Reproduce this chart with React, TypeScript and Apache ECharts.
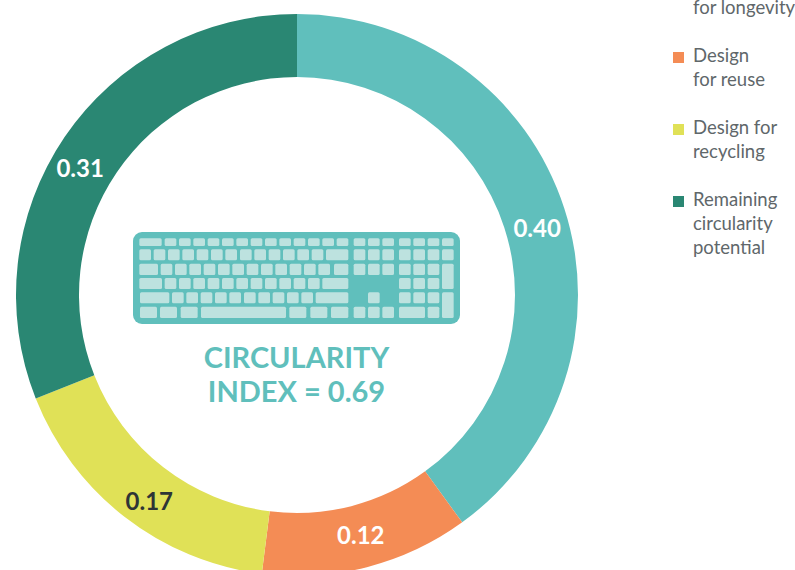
import React, { useEffect, useRef } from "react";
import * as echarts from "echarts";

const categories = ["Design for longevity", "Design for reuse", "Design for recycling", "Remaining circularity potential"];
const legendLines = ["Design\nfor longevity\n", "Design\nfor reuse\n", "Design for\nrecycling\n", "Remaining\ncircularity\npotential"];
const values = [0.4, 0.12, 0.17, 0.31];
const colors = ["#60BFBC", "#F48C55", "#E0E157", "#2A8773"];
const labelColors = ["#FFFFFF", "#FFFFFF", "#2E3436", "#FFFFFF"];
const labelOffsets = [[0, 11], [1, -5], [7, 6], [-8, 14]];
const centerText = "CIRCULARITY\nINDEX = 0.69";

// Keyboard icon: spans in 3x zoom units [x0, x1] per key row
const keyRows: [number, number, number[][]][] = [
  [55, 78, [[58,125],[134,169],[177,212],[220,255],[263,298],[306,341],[349,384],[392,427],[435,470],[478,513],[521,556],[564,599],[607,642],[650,685],[701,736],[744,779],[787,822],[837,872],[880,915],[923,958],[966,1001]]],
  [88, 121, [[58,93],[101,136],[144,179],[187,222],[230,265],[273,308],[316,351],[360,395],[403,438],[446,481],[489,524],[532,567],[575,610],[618,685],[701,736],[744,779],[787,822],[837,872],[880,915],[923,958],[966,1001]]],
  [131, 165, [[58,114],[122,157],[165,200],[208,243],[251,286],[294,329],[337,372],[380,415],[423,458],[466,501],[509,544],[552,587],[595,630],[642,685],[701,736],[744,779],[787,822],[837,872],[880,915],[923,958]]],
  [131, 207, [[966,1001]]],
  [174, 207, [[58,126],[134,169],[177,212],[220,255],[263,298],[306,341],[349,384],[392,427],[435,470],[478,513],[521,556],[564,599],[607,685],[837,872],[880,915],[923,958]]],
  [217, 250, [[60,148],[156,191],[199,234],[242,277],[285,320],[328,363],[372,407],[415,450],[458,493],[501,536],[544,579],[587,685],[744,779],[837,872],[880,915],[923,958]]],
  [217, 294, [[966,1001]]],
  [260, 294, [[60,111],[120,171],[182,233],[243,498],[508,559],[571,622],[633,685],[701,736],[744,779],[787,822],[837,915],[923,958]]],
];

const keyboardKeys = keyRows.flatMap(([y0, y1, spans]) =>
  spans.map(([x0, x1]) => ({
    type: "rect",
    silent: true,
    shape: { x: 120 + x0 / 3, y: 220 + y0 / 3, width: (x1 - x0) / 3, height: (y1 - y0) / 3, r: 1.5 },
    style: { fill: "#BDE2DF" },
  }))
);

// Legend icon: square near the top of a tall box, kept tall by zero-length segments
const legendIcon = "path://M0 0L0 0 M0 9H11V20H0Z M0 72L0 72";

export default function App() {
  const ref = useRef<HTMLDivElement>(null);
  useEffect(() => {
    const chart = echarts.init(ref.current!, undefined, { renderer: "svg" });
    chart.setOption({
      animation: false,
      backgroundColor: "#FFFFFF",
      textStyle: { fontFamily: "Lato" },
      legend: {
        orient: "vertical",
        left: 673,
        top: -29,
        padding: 0,
        itemGap: 0,
        itemWidth: 11,
        itemHeight: 72,
        icon: legendIcon,
        data: categories,
        selectedMode: false,
        formatter: (name: string) => legendLines[categories.indexOf(name)],
        textStyle: { fontFamily: "Lato", fontSize: 18.5, lineHeight: 24, color: "#60676A", padding: [0, 0, 0, 4] },
      },
      graphic: [
        {
          type: "rect",
          silent: true,
          shape: { x: 133, y: 232, width: 327, height: 92, r: 9 },
          style: { fill: "#60BFBC" },
        },
        ...keyboardKeys,
        {
          type: "text",
          silent: true,
          x: 296.5,
          y: 373.5,
          style: {
            text: centerText,
            fill: "#60BFBC",
            font: "bold 29px Lato",
            lineHeight: 34,
            align: "center",
            verticalAlign: "middle",
          },
        },
      ],
      series: [
        {
          type: "pie",
          center: [297, 295],
          radius: [218, 281],
          startAngle: 90,
          clockwise: true,
          silent: true,
          labelLine: { show: false },
          label: {
            show: true,
            position: "inside",
            fontFamily: "Lato",
            fontSize: 24,
            fontWeight: "bold",
            formatter: (p: any) => p.value.toFixed(2),
          },
          data: categories.map((name, i) => ({
            name,
            value: values[i],
            itemStyle: { color: colors[i] },
            label: { color: labelColors[i], offset: labelOffsets[i] },
          })),
        },
      ],
    });
    return () => chart.dispose();
  }, []);
  return <div ref={ref} style={{ position: "absolute", left: 0, top: 0, width: 795, height: 570 }} />;
}
